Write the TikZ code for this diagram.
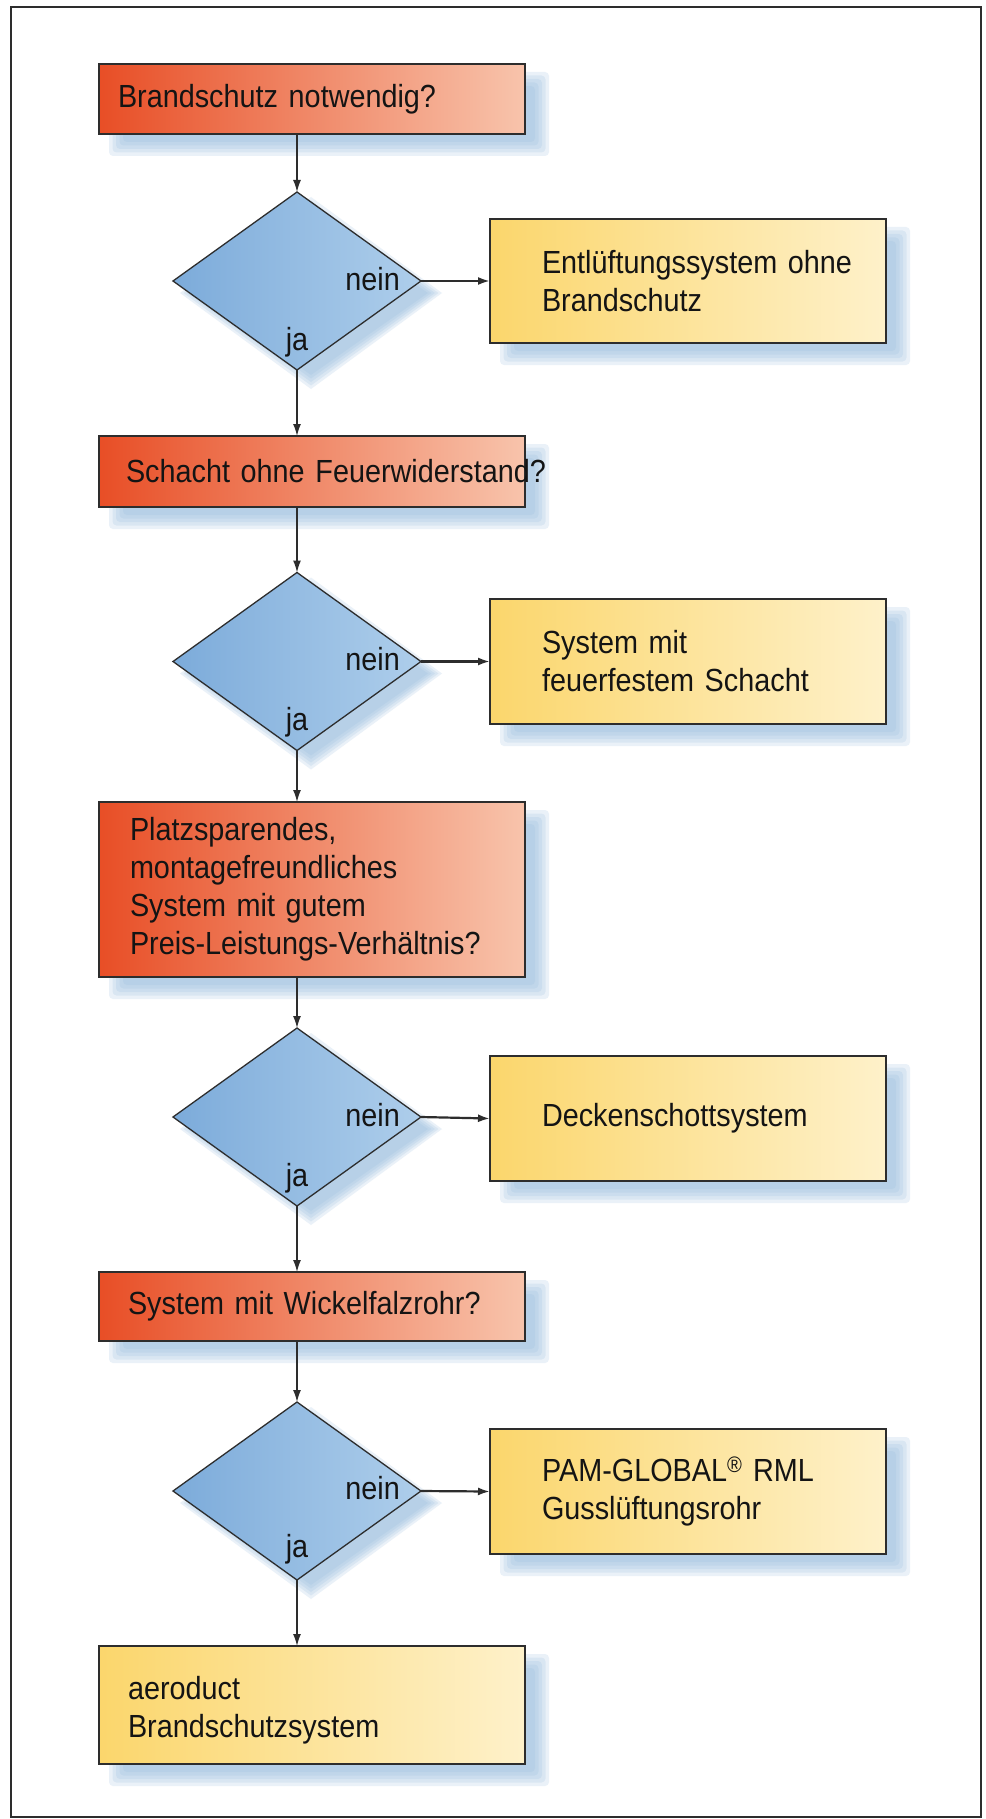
\documentclass[tikz,border=0pt]{standalone}
\usepackage{fontspec}
\setmainfont{Liberation Sans}[FakeStretch=0.9]
\usetikzlibrary{arrows.meta,shapes.geometric,calc,backgrounds}
\definecolor{qdark}{RGB}{232,78,38}
\definecolor{qlight}{RGB}{248,196,172}
\definecolor{ddark}{RGB}{124,171,218}
\definecolor{dlight}{RGB}{174,206,235}
\definecolor{ydark}{RGB}{251,214,108}
\definecolor{ylight}{RGB}{254,241,202}
\definecolor{shad}{RGB}{150,188,222}
\definecolor{edge}{RGB}{45,45,45}
\definecolor{ink}{RGB}{20,20,20}
\newcommand\rshadow[1]{%
  \foreach \e in {7,3.5,0,-3.5,-7}{%
    \fill[shad,opacity=0.2,rounded corners=4pt] ($(#1.north west)+(17-\e,15-\e)$) rectangle ($(#1.south east)+(17+\e,15+\e)$);}}
\newcommand\dshadow[1]{%
  \foreach \e in {7,3.5,0,-3.5,-7}{%
    \fill[shad,opacity=0.2] ($(#1.north)+(14,12-\e)$) -- ($(#1.east)+(14+\e,12)$) -- ($(#1.south)+(14,12+\e)$) -- ($(#1.west)+(14-\e,12)$) -- cycle;}}
\begin{document}
\begin{tikzpicture}[x=1pt,y=-1pt,
  every node/.style={font=\fontsize{32}{38}\selectfont, text=ink},
  box/.style={draw=edge, line width=1.3pt, rectangle, anchor=north west, align=left, inner ysep=0pt, outer sep=0pt},
  qbox/.style={box, left color=qdark, right color=qlight, minimum width=426pt},
  ybox/.style={box, left color=ydark, right color=ylight},
  rbox/.style={ybox, minimum width=396pt, inner xsep=52pt, text width=292pt},
  dec/.style={diamond, draw=edge, line width=1.3pt, left color=ddark, right color=dlight, minimum width=248pt, minimum height=178pt, inner sep=0pt, outer sep=0pt},
  lbl/.style={inner sep=0pt},
  conn/.style={draw=edge, line width=1.4pt, -{Latex[length=12pt,width=8pt]}},
  nconn/.style={conn, line width=2.2pt}]
\useasboundingbox (0,0) rectangle (985,1819);
\begin{scope}[on background layer]
  \fill[white] (0,0) rectangle (985,1819);
\end{scope}
\draw[edge, line width=2pt] (11,7) rectangle (981,1817);
% questions
\node[qbox, minimum height=70pt, inner xsep=19pt, text width=388pt] (q1) at (99,64) {Brandschutz notwendig?};
\node[qbox, minimum height=71pt, inner xsep=27pt, text width=372pt] (q2) at (99,436) {\mbox{Schacht ohne Feuerwiderstand?}};
\node[qbox, minimum height=175pt, inner xsep=31pt, text width=364pt] (q3) at (99,802) {Platzsparendes,\\montagefreundliches\\System mit gutem\\\mbox{Preis-Leistungs-Verhältnis?}};
\node[qbox, minimum height=69pt, inner xsep=29pt, text width=368pt] (q4) at (99,1272) {System mit Wickelfalzrohr?};
% decisions
\node[dec] (d1) at (297,281) {};
\node[dec] (d2) at (297,661.5) {};
\node[dec] (d3) at (297,1117) {};
\node[dec] (d4) at (297,1491) {};
% results
\node[rbox, minimum height=124pt] (r1) at (490,219) {\mbox{Entlüftungssystem ohne}\\Brandschutz};
\node[rbox, minimum height=125pt] (r2) at (490,599) {System mit\\feuerfestem Schacht};
\node[rbox, minimum height=125pt] (r3) at (490,1056) {Deckenschottsystem};
\node[rbox, minimum height=125pt] (r4) at (490,1429) {PAM-GLOBAL\textsuperscript{®} RML\\Gusslüftungsrohr};
\node[ybox, minimum width=426pt, minimum height=118pt, inner xsep=29pt, text width=368pt, text depth=35pt] (f) at (99,1646) {aeroduct\\Brandschutzsystem};
% labels
\foreach \d in {d1,d2,d3} {
  \node[lbl, anchor=base east] (\d n) at ($(\d.center)+(103,9)$) {nein};
  \node[lbl, anchor=base] (\d j) at ($(\d.center)+(0,69)$) {ja};
}
\node[lbl, anchor=base east] (d4n) at ($(d4.center)+(103,8)$) {nein};
\node[lbl, anchor=base] (d4j) at ($(d4.center)+(0,66)$) {ja};
% shadows
\begin{scope}[on background layer]
  \foreach \n in {q1,q2,q3,q4,r1,r2,r3,r4,f} {\rshadow{\n}}
  \foreach \n in {d1,d2,d3,d4} {\dshadow{\n}}
\end{scope}
% connectors
\draw[conn] (d1.north |- q1.south) -- (d1.north);
\draw[conn] (d1.south) -- (d1.south |- q2.north);
\draw[conn] (d2.north |- q2.south) -- (d2.north);
\draw[conn] (d2.south) -- (d2.south |- q3.north);
\draw[conn] (d3.north |- q3.south) -- (d3.north);
\draw[conn] (d3.south) -- (d3.south |- q4.north);
\draw[conn] (d4.north |- q4.south) -- (d4.north);
\draw[conn] (d4.south) -- (d4.south |- f.north);
\draw[nconn] (d1.east) -- (r1.west);
\draw[nconn] (d2.east) -- (r2.west);
\draw[nconn] (d3.east) -- (r3.west);
\draw[nconn] (d4.east) -- (r4.west);
\end{tikzpicture}
\end{document}
